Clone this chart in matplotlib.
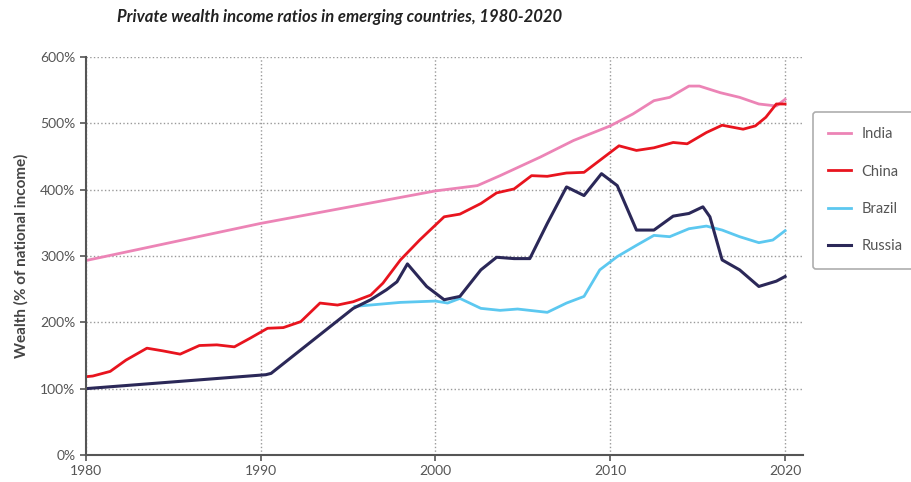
import matplotlib
matplotlib.use("Agg")
import matplotlib.pyplot as plt
from matplotlib.ticker import FuncFormatter

plt.rcParams['font.family'] = ['Lato', 'DejaVu Sans']

# values (% of national income)
india_years = [1980, 1990, 2000, 2002.4, 2003.7, 2006, 2007.9, 2010, 2011.3, 2012.5,
               2013.4, 2014.5, 2015.1, 2016.3, 2017.4, 2018.5, 2019.5, 2020]
india_vals = [293, 349, 398, 406, 421, 449, 474, 496, 514, 534,
              539, 556, 556, 546, 539, 529, 526, 536]

china_years = [1980, 1980.4, 1981.4, 1982.3, 1983.5, 1984.4, 1985.4, 1986.5, 1987.5, 1988.5,
               1989.4, 1990.4, 1991.3, 1992.3, 1993.4, 1994.4, 1995.3, 1996.3, 1997,
               1998, 1999.1, 2000.5, 2001.4, 2002.6, 2003.5, 2004.5, 2005.5, 2006.4,
               2007.5, 2008.5, 2009.4, 2010.5, 2011.5, 2012.5, 2013.6, 2014.4, 2015.5,
               2016.4, 2017.6, 2018.3, 2018.9, 2019.5, 2020]
china_vals = [118, 119, 126, 143, 161, 157, 152, 165, 166, 163,
              176, 191, 192, 201, 229, 226, 231, 241, 259,
              294, 324, 359, 363, 379, 395, 401, 421, 420,
              425, 426, 444, 466, 459, 463, 471, 469, 486,
              497, 491, 496, 509, 529, 529]

brazil_years = [1995.4, 1998, 2000, 2000.7, 2001.4, 2002.6, 2003.7, 2004.7, 2006.4, 2007.5,
                2008.5, 2009.4, 2010.4, 2011.5, 2012.5, 2013.4, 2014.5, 2015.5, 2016.4,
                2017.4, 2018.5, 2019.3, 2020]
brazil_vals = [224, 230, 232, 229, 236, 221, 218, 220, 215, 229,
               239, 279, 299, 316, 331, 329, 341, 345, 339,
               329, 320, 324, 338]

russia_years = [1980, 1990.3, 1990.6, 1995.3, 1996.3, 1997.2, 1997.8, 1998.4, 1999.5,
                2000.5, 2001.4, 2002.6, 2003.5, 2004.5, 2005.4, 2006.4, 2007.5, 2008.5,
                2009.5, 2010.4, 2011.5, 2012.5, 2013.6, 2014.5, 2015.3, 2015.7, 2016.4,
                2017.4, 2018.5, 2019.5, 2020]
russia_vals = [100, 121, 123, 221, 234, 249, 261, 288, 254,
               234, 239, 279, 298, 296, 296, 349, 404, 391,
               424, 406, 339, 339, 360, 364, 374, 359, 294,
               279, 254, 262, 269]

fig = plt.figure(figsize=(9.12, 4.82), dpi=100)
ax = fig.add_axes([0.094, 0.056, 0.786, 0.826])

ax.plot(india_years, india_vals, color='#EC84B6', lw=2, label='India')
ax.plot(china_years, china_vals, color='#E8141E', lw=2, label='China')
ax.plot(brazil_years, brazil_vals, color='#5CC8F0', lw=2, label='Brazil')
ax.plot(russia_years, russia_vals, color='#2B2858', lw=2.2, label='Russia')

ax.set_xlim(1980, 2021)
ax.set_ylim(0, 600)
ax.set_xticks([1980, 1990, 2000, 2010, 2020])
ax.set_yticks(range(0, 601, 100))
ax.yaxis.set_major_formatter(FuncFormatter(lambda v, p: f'{int(v)}%'))
ax.grid(True, linestyle=':', color='#999999', lw=1)
ax.set_axisbelow(True)

for s in ['top', 'right']:
    ax.spines[s].set_visible(False)
for s in ['left', 'bottom']:
    ax.spines[s].set_color('#555555')
    ax.spines[s].set_linewidth(1.5)
ax.tick_params(colors='#555555', labelcolor='#555555', labelsize=10, length=4, width=1.2)

ax.set_ylabel('Wealth (% of national income)', fontsize=11, color='#444444',
              fontweight='bold', labelpad=8)

fig.text(0.372, 0.955, 'Private wealth income ratios in emerging countries, 1980-2020',
         fontsize=12, fontweight='bold', style='italic', color='#222222', ha='center')

leg = ax.legend(loc='upper left', bbox_to_anchor=(1.004, 0.88), frameon=True, fontsize=10.5,
                labelspacing=1.6, handlelength=1.6, handletextpad=0.7, borderpad=1.05,
                fancybox=True, edgecolor='#999999', labelcolor='#555555')
leg.get_frame().set_linewidth(1.2)

fig.savefig('out.png', dpi=100)
